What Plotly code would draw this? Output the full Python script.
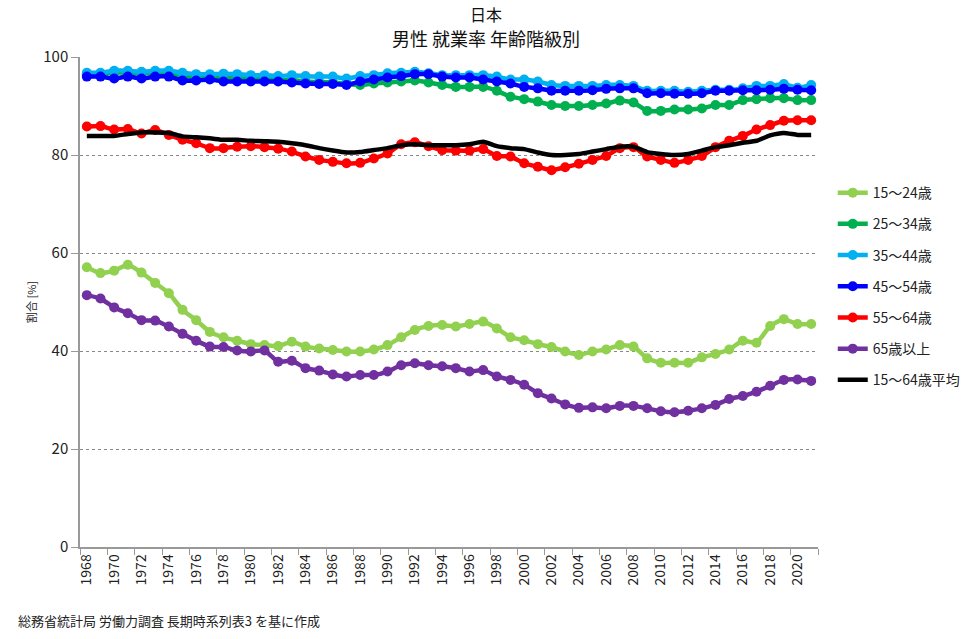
import plotly.graph_objects as go

years = list(range(1968, 2022))

age_15_24 = [57.1, 55.9, 56.4, 57.6, 56.0, 53.9, 51.8, 48.4, 46.3, 43.9, 42.8, 42.1, 41.4, 41.2, 41.0, 41.9, 40.9, 40.5, 40.2,
             39.9, 39.9, 40.3, 41.2, 42.8, 44.3, 45.1, 45.3, 45.0, 45.5, 46.0, 44.6, 42.8, 42.2, 41.4, 40.8, 39.9, 39.2,
             39.9, 40.3, 41.2, 40.9, 38.5, 37.6, 37.6, 37.6, 38.7, 39.4, 40.3, 42.1, 41.7, 45.1, 46.5, 45.5, 45.5]
age_25_34 = [96.5, 96.6, 96.8, 96.8, 96.7, 96.8, 96.6, 96.0, 95.8, 95.9, 95.8, 95.6, 95.6, 95.5, 95.4, 95.3, 95.0, 94.9, 94.8,
             94.5, 94.3, 94.6, 94.8, 95.0, 95.2, 94.8, 94.3, 93.9, 93.9, 93.9, 93.1, 91.9, 91.4, 90.9, 90.2, 90.0, 90.0,
             90.2, 90.5, 91.1, 90.7, 89.0, 89.0, 89.3, 89.3, 89.5, 90.2, 90.2, 91.2, 91.4, 91.6, 91.6, 91.2, 91.2]
age_35_44 = [96.8, 96.8, 97.2, 97.2, 97.0, 97.2, 97.2, 96.8, 96.5, 96.5, 96.6, 96.5, 96.3, 96.3, 96.1, 96.3, 96.1, 96.0, 96.0,
             95.6, 96.1, 96.3, 96.7, 96.8, 97.0, 96.7, 96.3, 96.3, 96.3, 96.3, 96.0, 95.4, 95.4, 95.0, 94.3, 94.1, 94.1,
             94.1, 94.3, 94.3, 94.1, 93.1, 93.1, 93.1, 92.9, 93.1, 93.3, 93.3, 93.6, 94.1, 94.1, 94.5, 93.7, 94.3]
age_45_54 = [96.0, 96.0, 95.6, 96.0, 95.6, 96.0, 96.0, 95.2, 95.2, 95.4, 95.0, 95.0, 95.0, 95.0, 95.0, 94.8, 94.6, 94.5, 94.5,
             94.3, 95.0, 95.4, 95.8, 96.1, 96.5, 96.5, 96.0, 95.8, 95.8, 95.4, 95.0, 94.6, 93.9, 93.6, 93.1, 93.1, 93.1,
             93.2, 93.5, 93.6, 93.6, 92.6, 92.6, 92.5, 92.5, 92.6, 93.1, 93.1, 93.2, 93.2, 93.3, 93.5, 93.3, 93.2]
age_55_64 = [85.8, 85.9, 85.2, 85.3, 84.4, 85.1, 84.1, 83.1, 82.4, 81.4, 81.4, 81.7, 81.8, 81.6, 81.3, 80.7, 79.7, 79.0, 78.6,
             78.3, 78.4, 79.3, 80.3, 82.2, 82.6, 81.8, 81.0, 80.9, 80.9, 81.2, 79.8, 79.7, 78.3, 77.6, 76.9, 77.5, 78.2,
             79.0, 79.8, 81.4, 81.6, 79.7, 79.0, 78.4, 79.0, 79.8, 81.6, 82.9, 83.9, 85.2, 86.1, 87.0, 87.1, 87.1]
age_65_up = [51.4, 50.7, 48.9, 47.7, 46.3, 46.2, 45.0, 43.5, 42.1, 40.9, 40.8, 40.1, 39.9, 40.1, 37.8, 38.0, 36.5, 36.0, 35.2,
             34.8, 35.1, 35.1, 35.8, 37.1, 37.5, 37.1, 36.9, 36.5, 35.8, 36.1, 34.8, 34.1, 33.1, 31.4, 30.3, 29.1, 28.4,
             28.5, 28.3, 28.8, 28.8, 28.3, 27.7, 27.5, 27.8, 28.3, 29.0, 30.2, 30.8, 31.7, 32.9, 34.1, 34.2, 33.9]
avg_15_64 = [83.9, 83.9, 83.9, 84.3, 84.6, 84.6, 84.5, 83.8, 83.6, 83.4, 83.1, 83.1, 82.9, 82.8, 82.7, 82.4, 82.0, 81.4, 80.9,
             80.5, 80.6, 81.0, 81.4, 82.0, 82.2, 82.0, 82.0, 82.0, 82.2, 82.7, 81.8, 81.4, 81.2, 80.5, 80.0, 80.0, 80.2,
             80.7, 81.2, 81.7, 81.7, 80.6, 80.2, 80.0, 80.2, 80.9, 81.6, 82.0, 82.5, 82.9, 84.0, 84.5, 84.1, 84.1]

series_names = ["15～24歳", "25～34歳", "35～44歳", "45～54歳", "55～64歳", "65歳以上", "15～64歳平均"]
series_values = [age_15_24, age_25_34, age_35_44, age_45_54, age_55_64, age_65_up, avg_15_64]
series_colors = ["#92D050", "#00B050", "#00B0F0", "#0000FF", "#FF0000", "#7030A0", "#000000"]

tick_years = list(range(1968, 2021, 2))
tick_labels = [str(y) for y in tick_years]

title_line1 = "日本"
title_line2 = "男性 就業率 年齢階級別"
y_title = "割合 [%]"
source_note = "総務省統計局 労働力調査 長期時系列表3 を基に作成"

FONT = "Noto Sans CJK JP, Noto Sans, sans-serif"

fig = go.Figure()
for i, (name, vals, col) in enumerate(zip(series_names, series_values, series_colors)):
    is_avg = (i == len(series_names) - 1)
    fig.add_trace(go.Scatter(
        x=years, y=vals, name=name,
        mode="lines" if is_avg else "lines+markers",
        line=dict(color=col, width=4.5, shape="spline", smoothing=0.5),
        marker=dict(color=col, size=10),
        legendgroup=f"g{i}",
        cliponaxis=False,
    ))

fig.update_layout(
    width=978, height=639,
    paper_bgcolor="white", plot_bgcolor="white",
    margin=dict(l=80, r=152, t=57, b=92),
    font=dict(family=FONT, size=13, color="#222"),
    showlegend=True,
    legend=dict(x=1.02, xanchor="left", y=0.755, yanchor="top", tracegroupgap=10, itemwidth=30,
                font=dict(size=14, color="#222"), bgcolor="rgba(0,0,0,0)"),
    annotations=[
        dict(text=title_line1, xref="paper", yref="paper", x=0.5496, y=1.0878,
             xanchor="center", yanchor="middle", showarrow=False, font=dict(size=16, color="#111")),
        dict(text=title_line2, xref="paper", yref="paper", x=0.5496, y=1.0388,
             xanchor="center", yanchor="middle", showarrow=False, font=dict(size=18, color="#111")),
        dict(text=source_note, xref="paper", yref="paper", x=-0.0871, y=-0.149,
             xanchor="left", yanchor="middle", showarrow=False, font=dict(size=13, color="#222")),
    ],
)

fig.update_xaxes(
    range=[1967.5, 2021.5], tickmode="array", tickvals=tick_years, ticktext=tick_labels,
    tickangle=-90, ticks="", showgrid=False, zeroline=False,
    showline=True, linecolor="#999", linewidth=1.5,
    tickfont=dict(size=14, color="#222"),
    minor=dict(tickmode="array", tickvals=[1967.5 + 2 * k for k in range(28)], ticks="outside",
               ticklen=6, tickcolor="#999", showgrid=False),
)
fig.update_yaxes(
    range=[0, 100], tickvals=[0, 20, 40, 60, 80, 100], ticks="outside", ticklen=7, tickcolor="#999",
    showgrid=True, gridcolor="#888", griddash="dot", gridwidth=1, zeroline=False,
    showline=True, linecolor="#999", linewidth=1.5,
    tickfont=dict(size=15, color="#222"),
    title=dict(text=y_title, font=dict(size=11, color="#222"), standoff=4),
)

fig.write_html("out.html", config={"displayModeBar": False},
               post_script="document.body.style.margin='0';")
